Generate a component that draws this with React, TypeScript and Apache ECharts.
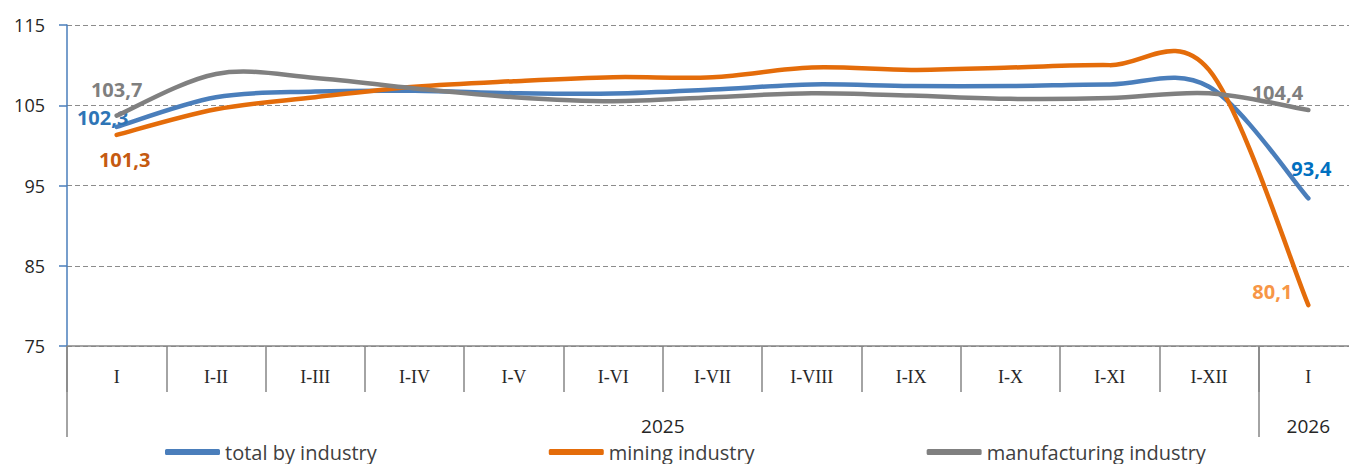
import React, { useEffect, useRef } from "react";
import * as echarts from "echarts";

const categories = ["I", "I-II", "I-III", "I-IV", "I-V", "I-VI", "I-VII", "I-VIII", "I-IX", "I-X", "I-XI", "I-XII", "I"];
const yearLabels = ["2025", "2026"];
const yearSpans = [12, 1];

const totalByIndustry = [102.3, 106.0, 106.7, 106.8, 106.5, 106.45, 106.95, 107.6, 107.4, 107.4, 107.6, 107.3, 93.4];
const miningIndustry = [101.3, 104.5, 106.0, 107.3, 108.0, 108.5, 108.5, 109.7, 109.4, 109.7, 110.0, 109.4, 80.1];
const manufacturingIndustry = [103.7, 108.9, 108.4, 107.1, 106.0, 105.5, 106.0, 106.5, 106.2, 105.8, 105.9, 106.5, 104.4];

const seriesNames = ["total by industry", "mining industry", "manufacturing industry"];
const yTicks = { min: 75, max: 115, interval: 10 };

const fmt = (v: number) => v.toFixed(1).replace(".", ",");

// label styles (first / last point): colour and offset from point centre
const labelStyles: Record<string, { first: any; last: any }> = {
  "total by industry": { first: { fill: "#2E75B6", dx: -14, dy: -9 }, last: { fill: "#0070C0", dx: 3, dy: -30 } },
  "mining industry": { first: { fill: "#C55A11", dx: 8, dy: 25 }, last: { fill: "#F79646", dx: -36, dy: -14 } },
  "manufacturing industry": { first: { fill: "#7F7F7F", dx: 0, dy: -26 }, last: { fill: "#7F7F7F", dx: -31, dy: -18 } },
};

function smoothPath(pts: number[][]) {
  // Catmull-Rom style cubic Bezier (Excel-like smoothing)
  let d = `M${pts[0][0]},${pts[0][1]}`;
  for (let i = 0; i < pts.length - 1; i++) {
    const p0 = pts[i - 1] || pts[i];
    const p1 = pts[i];
    const p2 = pts[i + 1];
    const p3 = pts[i + 2] || pts[i + 1];
    const c1x = p1[0] + (p2[0] - p0[0]) / 6;
    const c1y = p1[1] + (p2[1] - p0[1]) / 6;
    const c2x = p2[0] - (p3[0] - p1[0]) / 6;
    const c2y = p2[1] - (p3[1] - p1[1]) / 6;
    d += ` C${c1x},${c1y} ${c2x},${c2y} ${p2[0]},${p2[1]}`;
  }
  return d;
}

export default function App() {
  const ref = useRef<HTMLDivElement>(null);
  useEffect(() => {
    document.body.style.margin = "0";
    document.body.style.overflow = "hidden";
    document.documentElement.style.overflow = "hidden";
    const chart = echarts.init(ref.current!, undefined, { renderer: "svg" });

    const last = categories.length - 1;

    const bounds: number[] = [0];
    const centres: number[] = [];
    yearSpans.forEach((s, i) => {
      centres.push(bounds[i] + s / 2);
      bounds.push(bounds[i] + s);
    });

    const curveSeries = (name: string, values: number[], color: string, z: number) => ({
      name,
      type: "custom",
      coordinateSystem: "cartesian2d",
      xAxisIndex: 0,
      yAxisIndex: 0,
      data: values.map((v, i) => [i, v]),
      encode: { x: 0, y: 1 },
      itemStyle: { color },
      z,
      silent: true,
      renderItem: (params: any, api: any) => {
        const idx = params.dataIndex;
        const children: any[] = [];
        if (idx === 0) {
          const pts = values.map((v, i) => api.coord([i, v]));
          children.push({
            type: "path",
            shape: { pathData: smoothPath(pts) },
            style: { stroke: color, lineWidth: 4.5, fill: "none", lineCap: "round", lineJoin: "round" },
          });
        }
        if (idx === 0 || idx === last) {
          const ls = idx === 0 ? labelStyles[name].first : labelStyles[name].last;
          const p = api.coord([idx, values[idx]]);
          children.push({
            type: "text",
            x: p[0] + ls.dx,
            y: p[1] + ls.dy,
            z2: 10,
            style: {
              text: fmt(values[idx]),
              fill: ls.fill,
              font: "bold 20px 'Open Sans'",
              align: "center",
              verticalAlign: "middle",
            },
          });
        }
        return { type: "group", children };
      },
    });

    chart.setOption({
      animation: false,
      grid: { left: 67, right: 0, top: 25, bottom: 118, containLabel: false },
      legend: {
        left: 165,
        top: 442,
        padding: 0,
        icon: "roundRect",
        itemWidth: 55,
        itemHeight: 6,
        itemGap: 172,
        textStyle: { fontFamily: "Open Sans", fontSize: 20, lineHeight: 20, color: "#404040" },
        data: seriesNames,
      },
      xAxis: [
        {
          type: "category",
          data: categories,
          position: "bottom",
          boundaryGap: true,
          axisLine: { onZero: false, lineStyle: { color: "#868686", width: 1.5 } },
          axisTick: { show: true, interval: 0, length: 46, lineStyle: { color: "#868686", width: 1.5 } },
          axisLabel: {
            interval: 0,
            margin: 22,
            fontFamily: "Liberation Serif",
            fontSize: 18,
            color: "#262626",
          },
          splitLine: { show: false },
        },
        {
          type: "value",
          position: "bottom",
          min: 0,
          max: categories.length,
          axisLine: { show: false, onZero: false },
          axisTick: {
            show: true,
            customValues: bounds,
            length: 91,
            lineStyle: { color: "#868686", width: 1.5 },
          },
          axisLabel: {
            customValues: centres,
            formatter: (v: number) => {
              const i = centres.findIndex((c) => Math.abs(c - v) < 1e-6);
              return i >= 0 ? yearLabels[i] : "";
            },
            margin: 70,
            fontFamily: "Open Sans",
            fontSize: 19,
            color: "#262626",
          },
          splitLine: { show: false },
        },
      ],
      yAxis: {
        type: "value",
        min: yTicks.min,
        max: yTicks.max,
        interval: yTicks.interval,
        axisLine: { show: true, lineStyle: { color: "#4A7EBB", width: 1.5 } },
        axisTick: { show: true, length: 8, lineStyle: { color: "#4A7EBB", width: 1.5 } },
        axisLabel: { margin: 22, fontFamily: "Open Sans", fontSize: 18, color: "#262626" },
        splitLine: { show: true, lineStyle: { color: "#8C8C8C", type: [5, 3], width: 1.2 } },
      },
      series: [
        curveSeries(seriesNames[0], totalByIndustry, "#4A7EBB", 3),
        curveSeries(seriesNames[1], miningIndustry, "#E46C0A", 4),
        curveSeries(seriesNames[2], manufacturingIndustry, "#808080", 5),
      ],
    });
    return () => chart.dispose();
  }, []);
  return <div ref={ref} style={{ width: 1358, height: 464 }} />;
}
